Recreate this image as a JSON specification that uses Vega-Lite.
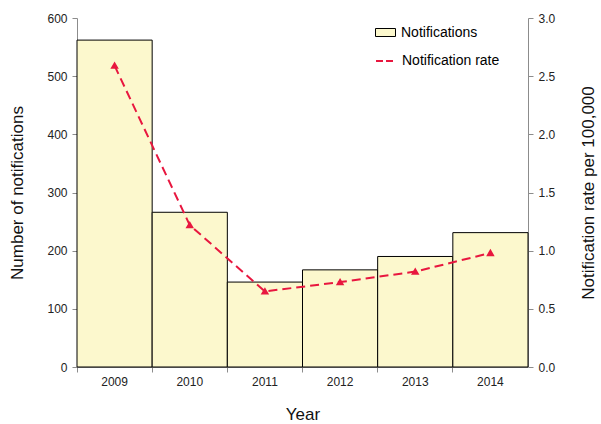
{
  "$schema": "https://vega.github.io/schema/vega-lite/v6.json",
  "width": 451,
  "height": 349,
  "autosize": {"type": "none"},
  "padding": {"left": 77, "top": 18, "right": 73, "bottom": 57},
  "background": "white",
  "config": {
    "view": {"stroke": null},
    "font": "Liberation Sans",
    "axis": {
      "domainColor": "#8c8c8c",
      "tickColor": "#8c8c8c",
      "labelColor": "#222",
      "labelFontSize": 12,
      "titleFontSize": 17,
      "titleFontWeight": "normal",
      "titleColor": "#111",
      "grid": false,
      "tickSize": 5
    }
  },
  "data": {
    "values": [
      {"year": "2009", "count": 562, "rate": 2.59, "s1": "Notifications", "s2": "Notification rate"},
      {"year": "2010", "count": 266, "rate": 1.22, "s1": "Notifications", "s2": "Notification rate"},
      {"year": "2011", "count": 146, "rate": 0.65, "s1": "Notifications", "s2": "Notification rate"},
      {"year": "2012", "count": 167, "rate": 0.73, "s1": "Notifications", "s2": "Notification rate"},
      {"year": "2013", "count": 190, "rate": 0.82, "s1": "Notifications", "s2": "Notification rate"},
      {"year": "2014", "count": 231, "rate": 0.98, "s1": "Notifications", "s2": "Notification rate"}
    ]
  },
  "encoding": {
    "x": {
      "field": "year",
      "type": "ordinal",
      "scale": {"paddingInner": 0, "paddingOuter": 0},
      "axis": {"title": "Year", "labelAngle": 0, "bandPosition": 0, "labelPadding": 4, "titlePadding": 19, "labelOffset": 0}
    }
  },
  "layer": [
    {
      "mark": {"type": "bar", "stroke": "black", "strokeWidth": 1},
      "encoding": {
        "y": {
          "field": "count",
          "type": "quantitative",
          "scale": {"domain": [0, 600]},
          "axis": {"title": "Number of notifications", "tickCount": 6, "titlePadding": 20, "labelPadding": 5}
        },
        "fill": {
          "field": "s1",
          "type": "nominal",
          "scale": {"range": ["#FCF8CD"]},
          "legend": {
            "title": null,
            "orient": "none",
            "legendX": 298,
            "legendY": 4,
            "symbolType": "M-1,-0.4L1,-0.4L1,0.4L-1,0.4Z",
            "symbolSize": 400,
            "symbolStrokeColor": "black",
            "symbolStrokeWidth": 1,
            "labelFontSize": 14,
            "labelColor": "black",
            "labelOffset": 5
          }
        }
      }
    },
    {
      "mark": {"type": "line", "strokeDash": [9, 5], "strokeWidth": 2, "point": {"shape": "triangle-up", "size": 25, "filled": true, "color": "#E8173F"}},
      "encoding": {
        "y": {
          "field": "rate",
          "type": "quantitative",
          "scale": {"domain": [0, 3]},
          "axis": {"title": "Notification rate per 100,000", "titleAngle": 270, "orient": "right", "tickCount": 6, "format": ".1f", "titlePadding": 43, "labelPadding": 5}
        },
        "stroke": {
          "field": "s2",
          "type": "nominal",
          "scale": {"range": ["#E8173F"]},
          "legend": {
            "title": null,
            "orient": "none",
            "legendX": 298,
            "legendY": 32,
            "symbolType": "stroke",
            "symbolSize": 400,
            "symbolStrokeWidth": 2,
            "symbolDash": [7, 3],
            "labelFontSize": 14,
            "labelColor": "black",
            "labelOffset": 5
          }
        }
      }
    }
  ],
  "resolve": {"scale": {"y": "independent", "fill": "independent", "stroke": "independent"}}
}
